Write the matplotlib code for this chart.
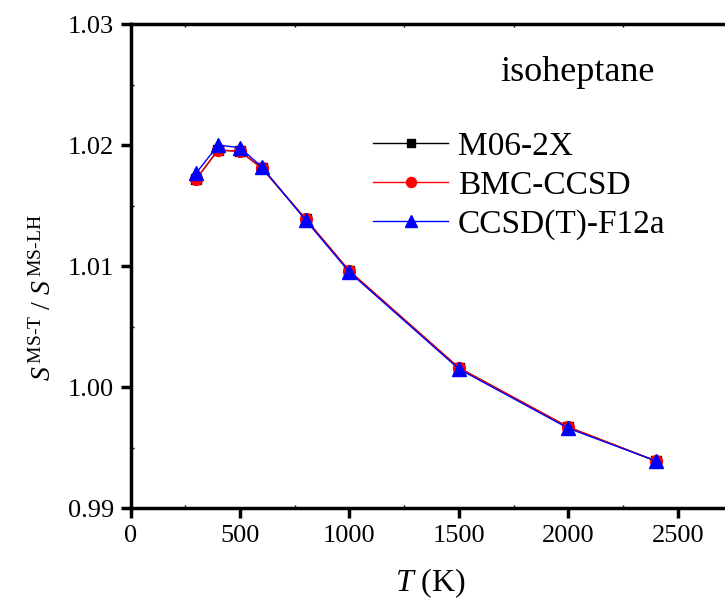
import numpy as np
import matplotlib
matplotlib.use("Agg")
import matplotlib.pyplot as plt
from matplotlib.ticker import MultipleLocator, FormatStrFormatter

plt.rcParams['font.family'] = ['Liberation Serif', 'DejaVu Serif']
plt.rcParams['mathtext.fontset'] = 'custom'
plt.rcParams['mathtext.rm'] = 'Liberation Serif'
plt.rcParams['mathtext.it'] = 'Liberation Serif:italic'

# data
T = [300, 400, 500, 600, 800, 1000, 1500, 2000, 2400]
m06 = [1.0172, 1.0196, 1.0195, 1.0181, 1.0139, 1.0096, 1.0016, 0.9967, 0.9939]
bmc = [1.0172, 1.0196, 1.0195, 1.0181, 1.0139, 1.0096, 1.0016, 0.9967, 0.9939]
f12 = [1.0177, 1.0200, 1.0198, 1.0182, 1.0138, 1.0095, 1.0015, 0.9966, 0.9939]

fig = plt.figure(figsize=(7.25, 6.05), dpi=100)
ax = fig.add_axes([0.1800, 0.160, 0.8200, 0.800])

ax.plot(T, m06, color='black', lw=1, marker='s', ms=7, label='M06-2X')
ax.plot(T, bmc, color='red', lw=1, marker='o', ms=8.5, label='BMC-CCSD')
ax.plot(T, f12, color='blue', lw=1, marker='^', ms=10, label='CCSD(T)-F12a')

ax.set_xlim(0, 2715)
ax.set_ylim(0.99, 1.03)
ax.xaxis.set_major_locator(MultipleLocator(500))
ax.xaxis.set_minor_locator(MultipleLocator(250))
ax.yaxis.set_major_locator(MultipleLocator(0.01))
ax.yaxis.set_minor_locator(MultipleLocator(0.005))
ax.yaxis.set_major_formatter(FormatStrFormatter('%.2f'))

ax.spines['right'].set_visible(False)
for s in ['left', 'bottom', 'top']:
    ax.spines[s].set_linewidth(2.5)
ax.tick_params(which='major', direction='out', length=7, width=2.5, labelsize=19, pad=5)
ax.tick_params(which='minor', direction='in', length=2, width=1)
ax.tick_params(axis='x', which='both', top=True, labeltop=False)
ax.tick_params(axis='x', which='major', top=False)
for lab in ax.get_xticklabels() + ax.get_yticklabels():
    lab.set_family('Liberation Serif')

ax.set_xlabel(r'$T$ (K)', fontsize=23)
ax.xaxis.set_label_coords(0.505, -0.12, transform=ax.transAxes)
ax.set_ylabel(r'$S^{\,\mathrm{MS\text{-}T}}$ / $S^{\,\mathrm{MS\text{-}LH}}$', fontsize=20)
ax.yaxis.set_label_coords(-0.124, 0.435, transform=ax.transAxes)

ax.text(0.751, 0.90, 'isoheptane', transform=ax.transAxes, fontsize=26, ha='center', va='center')
ax.legend(loc='upper left', bbox_to_anchor=(0.408, 0.778), frameon=False, fontsize=24,
          handlelength=2.25, handletextpad=0.3, labelspacing=0.245, markerscale=0.85,
          borderpad=0, borderaxespad=0)

fig.savefig('out.png', dpi=100)
